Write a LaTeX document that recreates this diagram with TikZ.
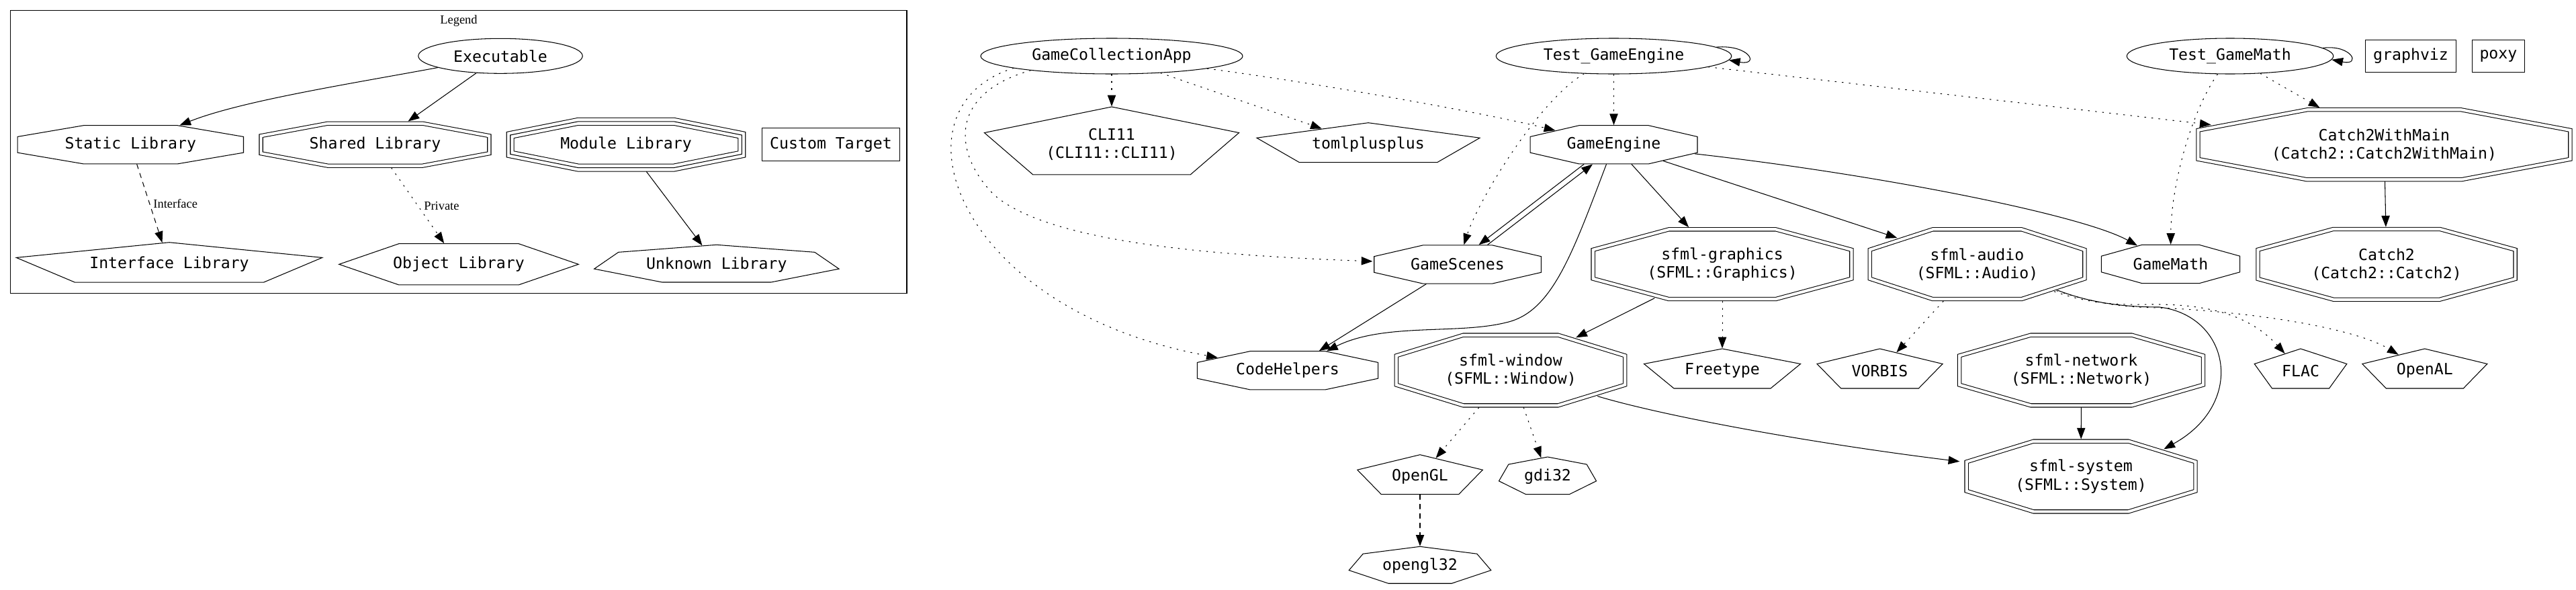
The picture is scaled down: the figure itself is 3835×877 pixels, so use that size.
\documentclass[tikz,border=0pt]{standalone}
\usepackage{fontspec}
\usetikzlibrary{shapes.geometric,arrows.meta}
\newfontfamily\gvmono{DejaVu Sans Mono}
\newfontfamily\gvserif{Liberation Serif}
\tikzset{
  gv/.style={draw, inner sep=0pt, outer sep=0.3pt},
  oct/.style={gv, regular polygon, regular polygon sides=8},
  dbloct/.style={oct, double, double distance=2.4pt, outer sep=1.8pt},
  pent/.style={gv, regular polygon, regular polygon sides=5},
  hexa/.style={gv, regular polygon, regular polygon sides=6},
  septa/.style={gv, regular polygon, regular polygon sides=7},
  executable/.style={gv, ellipse},
  custom/.style={gv, rectangle},
  lbl/.style={font=\gvmono\fontsize{13.2pt}{15.4pt}\selectfont, align=center, inner sep=0pt},
  tag/.style={font=\gvserif\fontsize{10.5pt}{12pt}\selectfont, inner sep=0pt},
  priv/.style={dash pattern=on 1pt off 5pt},
  iface/.style={dash pattern=on 4pt off 4pt}
}
\begin{document}
\begin{tikzpicture}[x=0.2mm, y=-0.2mm, line width=0.6pt, line cap=round, >={Triangle[length=9.5pt, width=7pt]}]
  \useasboundingbox (0,0) rectangle (3835,877);
  % legend
  \draw (15.6,15.7) rectangle (1350,436.7);
  \node[tag] (legend) at (683,30.7) {Legend};
  \node[executable, minimum width=48.9mm, minimum height=10.4mm] (exe) at (745,83.3) {};
  \node[oct, xscale=5.873, minimum size=12.4mm] (static) at (194.3,215.3) {};
  \node[dbloct, xscale=5.392, minimum size=13.64mm] (shared) at (558.5,215.2) {};
  \node[oct, double, double distance=5.64pt, outer sep=3.4pt, xscale=5.016, minimum size=14.87mm] (module) at (932,215.2) {};
  \node[oct, xscale=5.016, minimum size=14.87mm] (module-m) at (module) {};
  \node[custom, minimum width=41.1mm, minimum height=9.86mm] (custom) at (1237,215.3) {};
  \node[pent, xscale=7.3, minimum size=13.12mm] (ilib) at (252,393.5) {};
  \node[hexa, xscale=5.034, minimum size=14.16mm] (olib) at (683,393.3) {};
  \node[septa, xscale=6.379, minimum size=11.72mm] (ulib) at (1066.8,393.6) {};
  \node[lbl] (exe-t) at (exe) {Executable};
  \node[lbl] (static-t) at (static) {Static Library};
  \node[lbl] (shared-t) at (shared) {Shared Library};
  \node[lbl] (module-t) at (module) {Module Library};
  \node[lbl] (custom-t) at (custom) {Custom Target};
  \node[lbl] (ilib-t) at (ilib) {Interface Library};
  \node[lbl] (olib-t) at (olib) {Object Library};
  \node[lbl] (ulib-t) at (ulib) {Unknown Library};
  \draw[->] (exe) .. controls (520,125) and (360,150) .. (static);
  \draw[->] (exe) -- (shared);
  \draw[->, iface] (static) -- node[tag, right=3pt] (iface-t) {Interface} (ilib);
  \draw[->, priv] (shared) -- node[tag, right=5pt] (priv-t) {Private} (olib);
  \draw[->] (module) -- (ulib);
  % targets
  \node[executable, minimum width=78mm, minimum height=10.6mm] (gca) at (1655,83.5) {};
  \node[executable, minimum width=70.1mm, minimum height=10.6mm] (tge) at (2402.5,83.5) {};
  \node[executable, minimum width=61.5mm, minimum height=10.6mm] (tgm) at (3320,83.5) {};
  \node[custom, minimum width=27.1mm, minimum height=9.7mm] (gviz) at (3589,83.5) {};
  \node[custom, minimum width=15.7mm, minimum height=9.7mm] (poxy) at (3719.4,83.5) {};
  \node[pent, xscale=3.57, minimum size=22.33mm] (cli) at (1655,214.8) {};
  \node[pent, xscale=5.355, minimum size=13.04mm] (toml) at (2037,215.3) {};
  \node[oct, xscale=4.346, minimum size=12.4mm] (ge) at (2402.5,215.3) {};
  \node[dbloct, xscale=5.327, minimum size=22.51mm] (c2wm) at (3549.4,215.3) {};
  \node[oct, xscale=4.34, minimum size=12.4mm] (gs) at (2170,393.5) {};
  \node[dbloct, xscale=3.71, minimum size=22.45mm] (sg) at (2564,393.2) {};
  \node[dbloct, xscale=3.083, minimum size=22.45mm] (sa) at (2943.5,393.2) {};
  \node[oct, xscale=3.6, minimum size=12.4mm] (gm) at (3231.5,393) {};
  \node[dbloct, xscale=3.659, minimum size=22.67mm] (catch2) at (3553,393.3) {};
  \node[oct, xscale=4.703, minimum size=12.4mm] (ch) at (1917,551.3) {};
  \node[dbloct, xscale=3.251, minimum size=22.67mm] (sw) at (2249,551) {};
  \node[pent, xscale=3.757, minimum size=13.04mm] (ft) at (2564,551.6) {};
  \node[pent, xscale=3.015, minimum size=13.04mm] (vorbis) at (2798.5,551.6) {};
  \node[dbloct, xscale=3.464, minimum size=22.67mm] (sn) at (3098.5,551) {};
  \node[pent, xscale=2.218, minimum size=13.04mm] (flac) at (3425,551.6) {};
  \node[pent, xscale=3.0, minimum size=13.04mm] (openal) at (3609.8,551.6) {};
  \node[pent, xscale=3.008, minimum size=13.04mm] (opengl) at (2114,709.3) {};
  \node[septa, xscale=2.539, minimum size=11.72mm] (gdi) at (2304,709.3) {};
  \node[dbloct, xscale=3.254, minimum size=22.67mm] (sys) at (3098,709) {};
  \node[septa, xscale=3.754, minimum size=11.56mm] (ogl32) at (2114,842.2) {};
  \node[lbl] (gca-t) at (gca) {GameCollectionApp};
  \node[lbl] (tge-t) at (tge) {Test\_GameEngine};
  \node[lbl] (tgm-t) at (tgm) {Test\_GameMath};
  \node[lbl] (gviz-t) at (gviz) {graphviz};
  \node[lbl] (poxy-t) at (poxy) {poxy};
  \node[lbl] (cli-t) at (cli) {CLI11\\(CLI11::CLI11)};
  \node[lbl] (toml-t) at (toml) {tomlplusplus};
  \node[lbl] (ge-t) at (ge) {GameEngine};
  \node[lbl] (c2wm-t) at (c2wm) {Catch2WithMain\\(Catch2::Catch2WithMain)};
  \node[lbl] (gs-t) at (gs) {GameScenes};
  \node[lbl] (sg-t) at (sg) {sfml-graphics\\(SFML::Graphics)};
  \node[lbl] (sa-t) at (sa) {sfml-audio\\(SFML::Audio)};
  \node[lbl] (gm-t) at (gm) {GameMath};
  \node[lbl] (catch2-t) at (catch2) {Catch2\\(Catch2::Catch2)};
  \node[lbl] (ch-t) at (ch) {CodeHelpers};
  \node[lbl] (sw-t) at (sw) {sfml-window\\(SFML::Window)};
  \node[lbl] (ft-t) at (ft) {Freetype};
  \node[lbl] (vorbis-t) at (vorbis) {VORBIS};
  \node[lbl] (sn-t) at (sn) {sfml-network\\(SFML::Network)};
  \node[lbl] (flac-t) at (flac) {FLAC};
  \node[lbl] (openal-t) at (openal) {OpenAL};
  \node[lbl] (opengl-t) at (opengl) {OpenGL};
  \node[lbl] (gdi-t) at (gdi) {gdi32};
  \node[lbl] (sys-t) at (sys) {sfml-system\\(SFML::System)};
  \node[lbl] (ogl32-t) at (ogl32) {opengl32};
  % dependencies
  \draw[->, priv] (gca) -- (cli);
  \draw[->, priv] (gca) -- (toml);
  \draw[->, priv] (gca) .. controls (1950,122) and (2200,166) .. (ge);
  \draw[->, priv] (gca.-170) .. controls (1410,140) and (1420,230) .. (1480,290) .. controls (1560,360) and (1800,380) .. (gs);
  \draw[->, priv] (gca.-173) .. controls (1320,160) and (1420,460) .. (ch);
  \draw[->, priv] (tge) -- (ge);
  \draw[->, priv] (tge) .. controls (2290,150) and (2200,300) .. (gs);
  \draw[->, priv] (tge) -- (c2wm);
  \draw[->] (tge.5) .. controls (2605,66) and (2620,98) .. (tge.-2);
  \draw[->, priv] (tgm) .. controls (3260,170) and (3232,280) .. (gm);
  \draw[->, priv] (tgm) -- (c2wm);
  \draw[->] (tgm.5) .. controls (3501,66) and (3516,98) .. (tgm.-2);
  \draw[->] (c2wm) -- (catch2);
  \draw[->, transform canvas={xshift=-1.3mm}] (ge) -- (gs);
  \draw[->, transform canvas={xshift=1.3mm}] (gs) -- (ge);
  \draw[->] (ge) -- (sg);
  \draw[->] (ge) -- (sa);
  \draw[->] (ge) .. controls (2800,260) and (3100,320) .. (gm);
  \draw[->] (ge) .. controls (2340,380) and (2310,465) .. (2242,480) .. controls (2170,498) and (2060,480) .. (ch);
  \draw[->] (gs) -- (ch);
  \draw[->] (sg) -- (sw);
  \draw[->, priv] (sg) -- (ft);
  \draw[->, priv] (sa) -- (vorbis);
  \draw[->] (sa.-45) .. controls (3110,450) and (3160,457) .. (3215,457) .. controls (3320,470) and (3345,600) .. (sys.47);
  \draw[->, priv] (sa) .. controls (3110,452) and (3150,454) .. (3200,453) .. controls (3290,452) and (3350,470) .. (flac);
  \draw[->, priv] (sa) .. controls (3120,452) and (3160,457) .. (3210,458) .. controls (3330,462) and (3500,485) .. (openal);
  \draw[->] (sw) .. controls (2480,620) and (2700,660) .. (sys);
  \draw[->, priv] (sw) -- (opengl);
  \draw[->, priv] (sw) -- (gdi);
  \draw[->, iface] (opengl) -- (ogl32);
  \draw[->] (sn) -- (sys);
\end{tikzpicture}
\end{document}
